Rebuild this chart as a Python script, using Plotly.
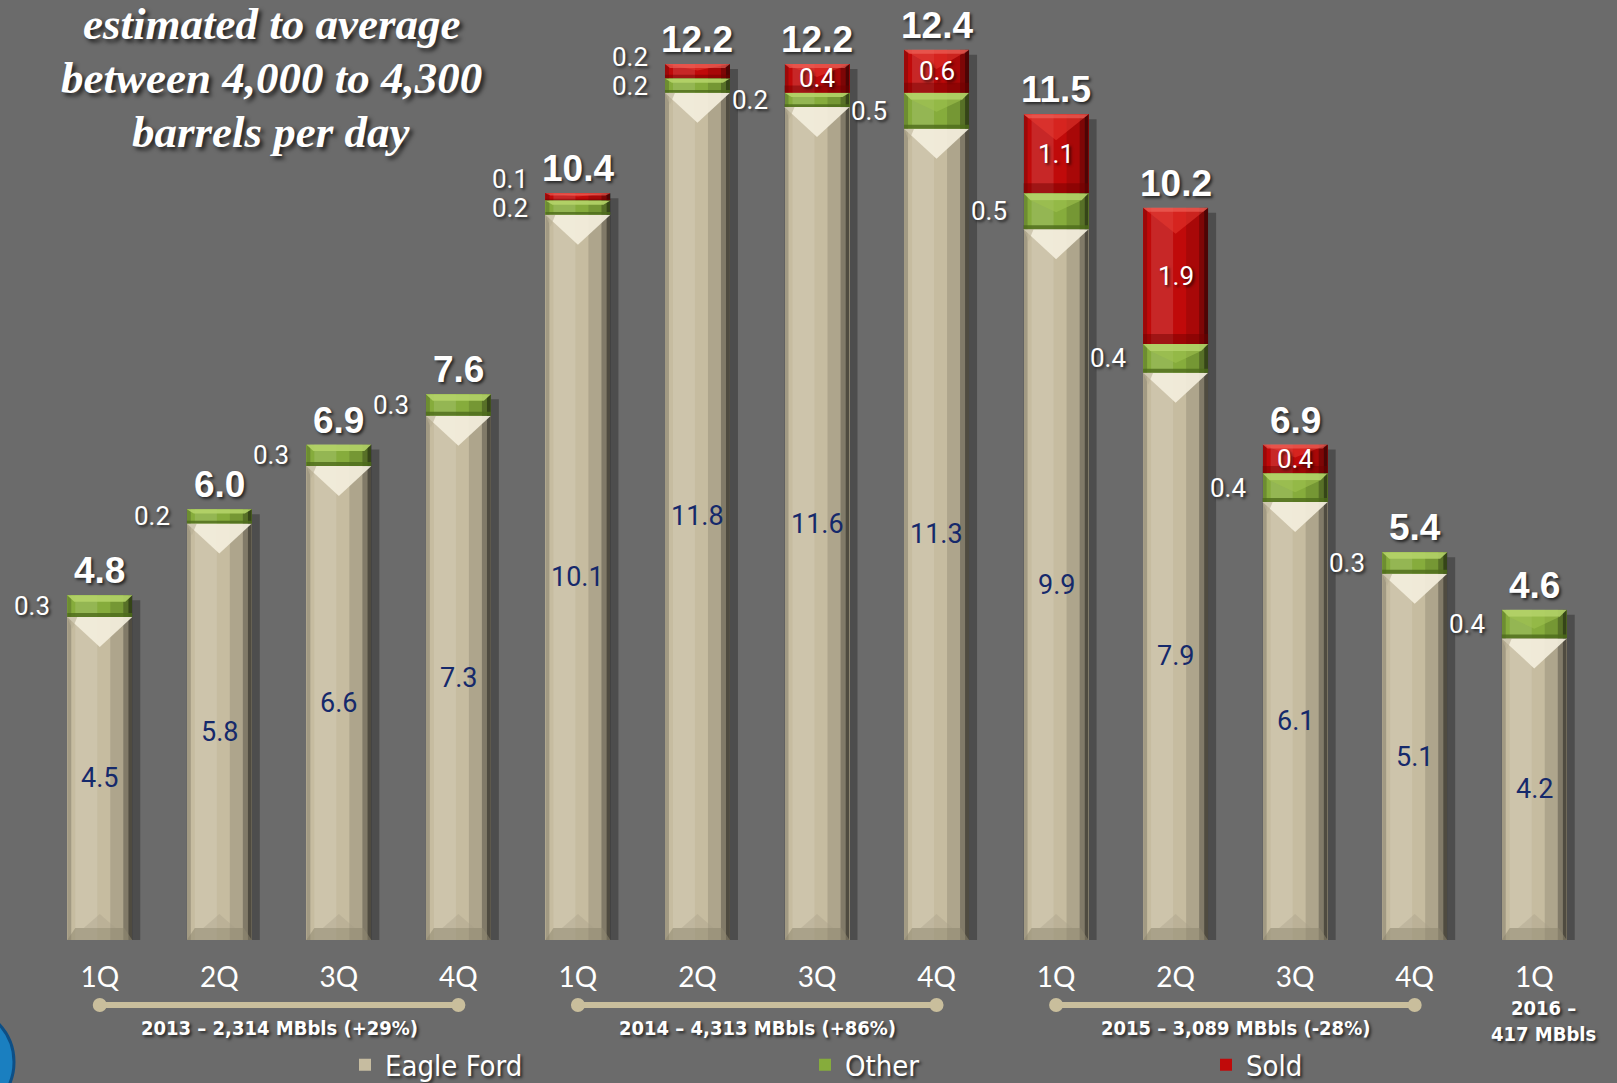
import plotly.graph_objects as go

# ---------------- data ----------------
quarters = ["1Q", "2Q", "3Q", "4Q", "1Q", "2Q", "3Q", "4Q", "1Q", "2Q", "3Q", "4Q", "1Q"]
eagle_ford = [4.5, 5.8, 6.6, 7.3, 10.1, 11.8, 11.6, 11.3, 9.9, 7.9, 6.1, 5.1, 4.2]
other = [0.3, 0.2, 0.3, 0.3, 0.2, 0.2, 0.2, 0.5, 0.5, 0.4, 0.4, 0.3, 0.4]
sold = [0.0, 0.0, 0.0, 0.0, 0.1, 0.2, 0.4, 0.6, 1.1, 1.9, 0.4, 0.0, 0.0]
totals = [4.8, 6.0, 6.9, 7.6, 10.4, 12.2, 12.2, 12.4, 11.5, 10.2, 6.9, 5.4, 4.6]
year_labels = ["2013 – 2,314 MBbls (+29%)", "2014 – 4,313 MBbls (+86%)", "2015 – 3,089 MBbls (-28%)"]
year_first_q = [0, 4, 8]
year_last_q = [3, 7, 11]
label_2016 = "2016 –<br>417 MBbls"
note_lines = ["estimated to average", "between 4,000 to 4,300", "barrels per day"]

# ---------------- geometry ----------------
W, H = 1617, 1083
ML, MR, MT, MB = 40, 23, 0, 143
PLOT_W = W - ML - MR
PLOT_H = H - MT - MB
N = len(quarters)
XU = PLOT_W / N            # px per x unit
YU = 71.8                  # px per y unit
YMAX = PLOT_H / YU
BW = 65 / XU               # bar width in x units
HW = BW / 2


def dx(px):
    return px / XU


def dy(px):
    return px / YU


def py(pix):
    """pixel row (from top of figure) -> paper y"""
    return (PLOT_H + MT - pix) / PLOT_H


BG = "#6B6B6B"
TAN = "#C6BCA0"
GREEN = "#86AC3C"
RED = "#C00A0A"
NAVY = "#15296B"
SHADOW = "2px 2px 3px rgba(0,0,0,0.65)"
COND = "DejaVu Sans Condensed, Liberation Sans, sans-serif"

idx = list(range(N))

fig = go.Figure()
fig.add_trace(go.Bar(x=idx, y=eagle_ford, name="Eagle Ford", width=BW,
                     marker=dict(color=TAN, line=dict(width=0))))
fig.add_trace(go.Bar(x=idx, y=other, name="Other", width=BW,
                     marker=dict(color=GREEN, line=dict(width=0))))
fig.add_trace(go.Bar(x=idx, y=sold, name="Sold", width=BW, legend="legend2",
                     marker=dict(color=RED, line=dict(width=0))))

shapes = []


def rect(x0, x1, y0, y1, color, opacity=1.0, layer="above"):
    shapes.append(dict(type="rect", xref="x", yref="y", x0=x0, x1=x1, y0=y0, y1=y1,
                       fillcolor=color, opacity=opacity, line=dict(width=0), layer=layer))


def poly(pts, color, opacity=1.0):
    path = "M " + " L ".join(f"{a},{b}" for a, b in pts) + " Z"
    shapes.append(dict(type="path", xref="x", yref="y", path=path,
                       fillcolor=color, opacity=opacity, line=dict(width=0), layer="above"))


def bevel(i, y0, y1, kind):
    if y1 - y0 <= 0:
        return
    xl, xr = i - HW, i + HW
    h_px = (y1 - y0) * YU
    # vertical shading across bar
    rect(xl, xl + dx(4), y0, y1, "black", 0.18)
    rect(xl + dx(8), xl + dx(30), y0, y1, "white", 0.12)
    rect(xr - dx(22), xr - dx(9), y0, y1, "black", 0.12)
    rect(xr - dx(9), xr - dx(4), y0, y1, "black", 0.35)
    rect(xr - dx(4), xr, y0, y1, "black", 0.6)
    if kind == "tan":
        d = min(30, h_px * 0.5)
        poly([(xl, y1), (xr, y1), (i, y1 - dy(d))], "#F3EEDC", 0.92)
        poly([(xl, y1), (xl + dx(10), y1), (xl + dx(5), y1 - dy(d * 0.4))], "#B9B096", 0.6)
        # bottom bevel
        poly([(xl, y0), (xr, y0), (xr - dx(8), y0 + dy(12)), (xl + dx(8), y0 + dy(12))], "#8E8670", 0.55)
        poly([(i - dx(16), y0 + dy(12)), (i + dx(16), y0 + dy(12)), (i, y0 + dy(26))], "#A79F86", 0.35)
    elif kind == "green":
        t = min(7, h_px * 0.3)
        poly([(xl, y1), (xr, y1), (xr - dx(7), y1 - dy(t)), (xl + dx(7), y1 - dy(t))], "#B4D368", 0.9)
        rect(xl, xr, y0, y0 + dy(min(4, h_px * 0.2)), "#4E6B1C", 0.8)
        if h_px > 25:
            poly([(xl + dx(7), y1 - dy(t)), (xr - dx(7), y1 - dy(t)), (i, y1 - dy(t + 12))], "#9EC24E", 0.6)
    elif kind == "red":
        d = min(26, h_px * 0.45)
        poly([(xl, y1), (xr, y1), (i, y1 - dy(d))], "#E83A32", 0.55)
        poly([(xl, y1), (xr, y1), (xr - dx(5), y1 - dy(min(4, h_px * 0.3))),
              (xl + dx(5), y1 - dy(min(4, h_px * 0.3)))], "#F06A60", 0.6)
        b = min(10, h_px * 0.25)
        rect(xl, xr, y0, y0 + dy(b), "#6E0000", 0.45)


for i in idx:
    ef, ot, so = eagle_ford[i], other[i], sold[i]
    top = ef + ot + so
    # drop shadow on the right
    rect(i + HW, i + HW + dx(8), 0, top - dy(5), "black", 0.28, layer="below")
    bevel(i, 0, ef, "tan")
    bevel(i, ef, ef + ot, "green")
    bevel(i, ef + ot, top, "red")

# ---------------- annotations ----------------
ann = []
for i in idx:
    ef, ot, so = eagle_ford[i], other[i], sold[i]
    ann.append(dict(x=i, y=ef / 2, xref="x", yref="y", text=f"{ef:.1f}", showarrow=False,
                    font=dict(family="Roboto, Arial", size=27, color=NAVY)))
    ann.append(dict(x=i - HW - dx(15), y=ef + ot / 2, xref="x", yref="y", text=f"{ot:.1f}",
                    showarrow=False, xanchor="right",
                    font=dict(family="Roboto, Arial", size=26, color="white", shadow=SHADOW)))
    if so >= 0.3:
        ann.append(dict(x=i, y=ef + ot + so / 2, xref="x", yref="y", text=f"{so:.1f}", showarrow=False,
                        font=dict(family="Roboto, Arial", size=26, color="white", shadow=SHADOW)))
    elif so > 0:
        ann.append(dict(x=i - HW - dx(15), y=ef + ot / 2 + 0.4, xref="x", yref="y", text=f"{so:.1f}",
                        showarrow=False, xanchor="right",
                        font=dict(family="Roboto, Arial", size=26, color="white", shadow=SHADOW)))
    ann.append(dict(x=i, y=totals[i], xref="x", yref="y", text=f"<b>{totals[i]:.1f}</b>",
                    showarrow=False, yanchor="bottom", yshift=2,
                    font=dict(family="Liberation Sans, Arial", size=37, color="white", shadow=SHADOW)))

# year brackets
for lab, a, b in zip(year_labels, year_first_q, year_last_q):
    yl = py(1005)
    shapes.append(dict(type="line", xref="x", yref="paper", x0=a, x1=b, y0=yl, y1=yl,
                       line=dict(color="#C9BE9C", width=6), layer="above"))
    for q in (a, b):
        shapes.append(dict(type="circle", xref="x", yref="paper", xsizemode="pixel", ysizemode="pixel",
                           xanchor=q, yanchor=yl, x0=-7, x1=7, y0=-7, y1=7,
                           fillcolor="#C9BE9C", line=dict(width=0), layer="above"))
    ann.append(dict(x=(a + b) / 2, y=py(1028), xref="x", yref="paper", text=f"<b>{lab}</b>",
                    showarrow=False, xanchor="center", yanchor="middle",
                    font=dict(family=COND, size=20, color="white", shadow=SHADOW)))
ann.append(dict(x=12.08, y=py(1021), xref="x", yref="paper", text=f"<b>{label_2016}</b>",
                showarrow=False, xanchor="center", yanchor="middle",
                font=dict(family=COND, size=20, color="white", shadow=SHADOW)))

# note in top-left (one annotation per line to keep the tight leading)
for k, line in enumerate(note_lines):
    ann.append(dict(x=(271 - ML) / PLOT_W, y=py(24 + 54 * k), xref="paper", yref="paper",
                    xanchor="center", yanchor="middle",
                    text=f"<b><i>{line}</i></b>", showarrow=False,
                    font=dict(family="Liberation Serif, Times New Roman", size=45, color="white",
                              shadow="3px 3px 4px rgba(0,0,0,0.7)")))

# blue logo fragment in bottom-left corner
shapes.append(dict(type="circle", xref="paper", yref="paper", xsizemode="pixel", ysizemode="pixel",
                   xanchor=-ML / PLOT_W, yanchor=py(1062), x0=-110, x1=14, y0=-58, y1=58,
                   fillcolor="#1A7FC0", line=dict(color="#0D4F86", width=3), layer="above"))

LEG_FONT = dict(family=COND, size=29, color="white", shadow=SHADOW)
fig.update_layout(
    width=W, height=H,
    margin=dict(l=ML, r=MR, t=MT, b=MB, autoexpand=False),
    paper_bgcolor=BG, plot_bgcolor=BG,
    barmode="stack",
    showlegend=True,
    legend=dict(orientation="h", xref="container", yref="container",
                x=345 / W, y=(H - 1065) / H, xanchor="left", yanchor="middle",
                traceorder="normal",
                entrywidth=415, entrywidthmode="pixels", bgcolor="rgba(0,0,0,0)",
                font=LEG_FONT),
    legend2=dict(orientation="h", xref="container", yref="container",
                 x=1206 / W, y=(H - 1065) / H, xanchor="left", yanchor="middle",
                 bgcolor="rgba(0,0,0,0)", font=LEG_FONT),
    xaxis=dict(range=[-0.5, N - 0.5], tickmode="array", tickvals=idx, ticktext=quarters,
               showgrid=False, zeroline=False, showline=False,
               ticks="outside", ticklen=12, tickcolor="rgba(0,0,0,0)",
               tickfont=dict(family="Lato, Noto Sans", size=28, color="white")),
    yaxis=dict(range=[0, YMAX], visible=False, showgrid=False, zeroline=False),
    shapes=shapes,
    annotations=ann,
)

fig.write_html("out.html", config={"displayModeBar": False},
               post_script="document.body.style.margin='0';document.body.style.overflow='hidden';")
